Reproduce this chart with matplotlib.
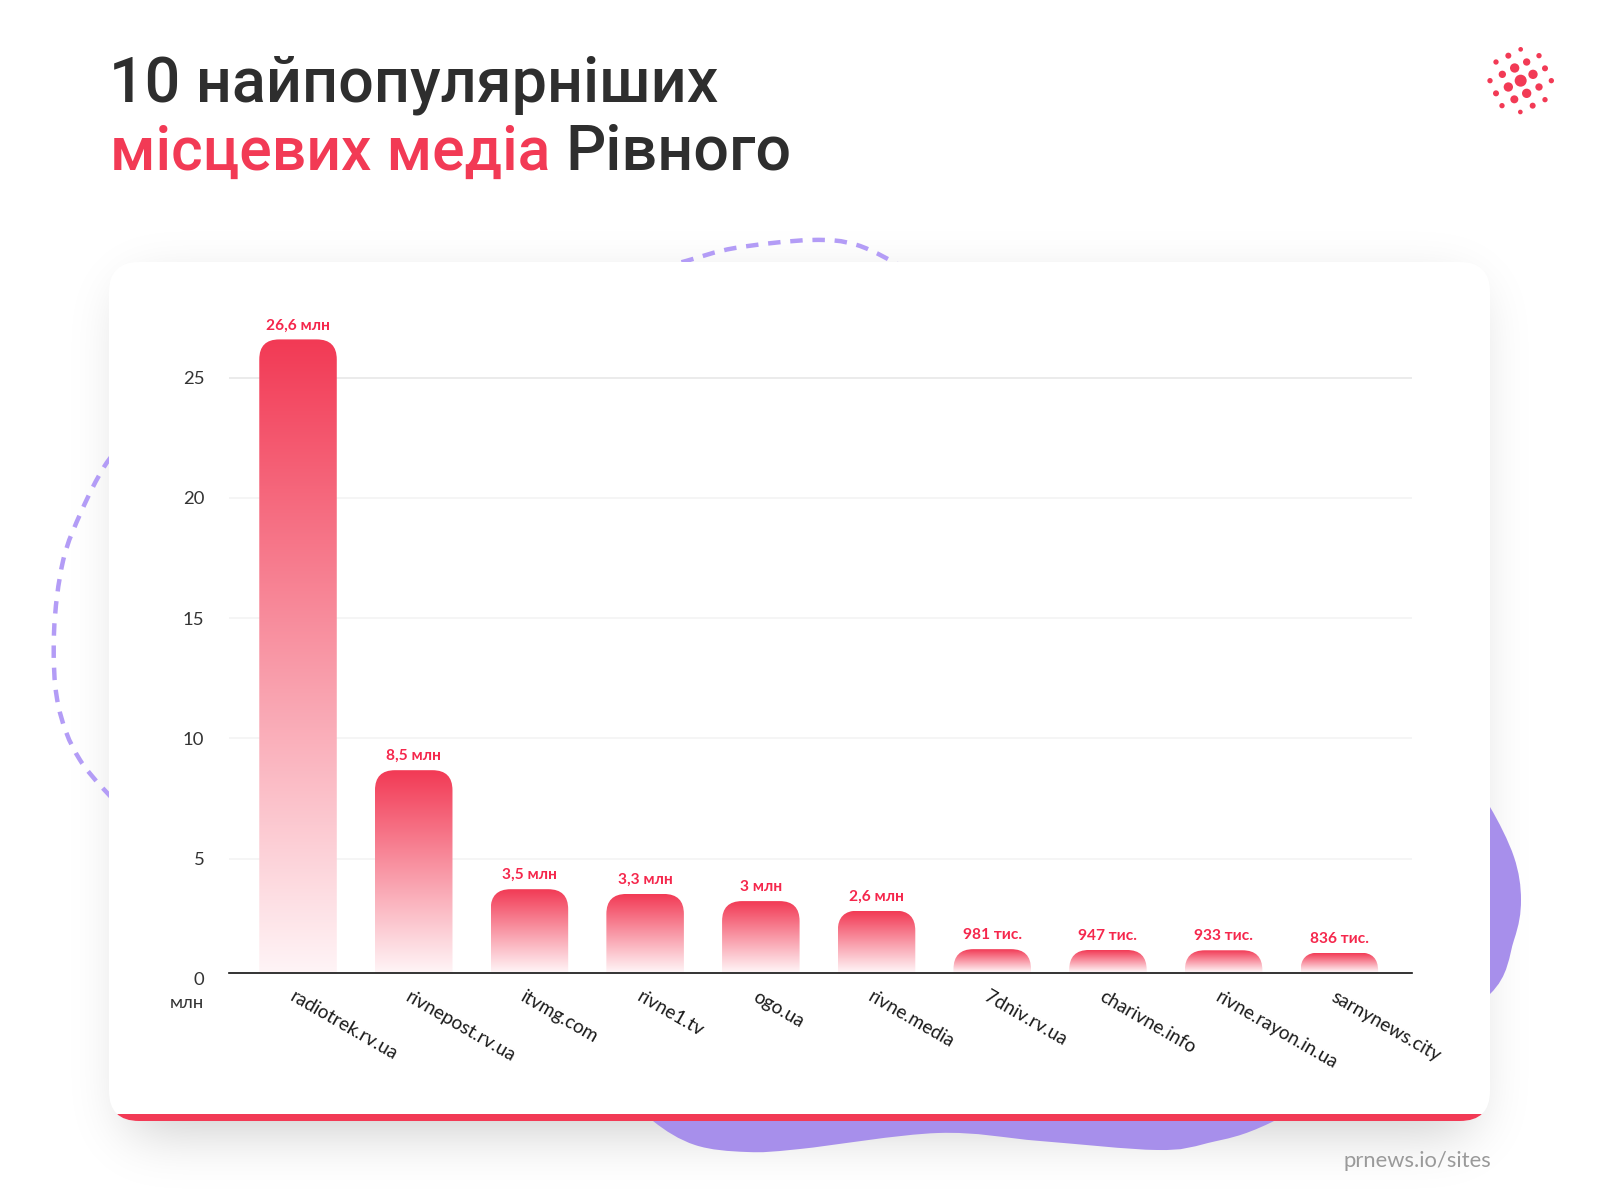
import math
import numpy as np
import matplotlib
matplotlib.use("Agg")
import matplotlib.pyplot as plt
from matplotlib.path import Path
from matplotlib.patches import PathPatch, FancyBboxPatch, Circle, Rectangle
from matplotlib.transforms import ScaledTranslation

# ---- data ----
sites = ["radiotrek.rv.ua", "rivnepost.rv.ua", "itvmg.com", "rivne1.tv", "ogo.ua",
         "rivne.media", "7dniv.rv.ua", "charivne.info", "rivne.rayon.in.ua", "sarnynews.city"]
visits_mln = [26.6, 8.5, 3.5, 3.3, 3.0, 2.6, 0.981, 0.947, 0.933, 0.836]
value_labels = ["26,6 млн", "8,5 млн", "3,5 млн", "3,3 млн", "3 млн", "2,6 млн",
                "981 тис.", "947 тис.", "933 тис.", "836 тис."]
y_ticks = [0, 5, 10, 15, 20, 25]

RED = "#F23A55"
LABEL_RED = "#F5274C"
PURPLE = "#A78FEB"
DASH = "#B39CF6"
DARK = "#2E2E2E"

plt.rcParams["font.family"] = ["Lato", "DejaVu Sans"]
fig = plt.figure(figsize=(16, 12), dpi=100, facecolor="white")

# ---- decorative background in pixel coordinates ----
bg = fig.add_axes([0, 0, 1, 1], zorder=0)
bg.set_xlim(0, 1600)
bg.set_ylim(1200, 0)
bg.axis("off")


def smooth_path(pts, closed=False):
    pts = [np.array(p, float) for p in pts]
    n = len(pts)
    verts = [pts[0]]
    codes = [Path.MOVETO]
    segs = n if closed else n - 1
    for i in range(segs):
        if closed:
            p0, p1, p2, p3 = pts[(i - 1) % n], pts[i], pts[(i + 1) % n], pts[(i + 2) % n]
        else:
            p0, p1, p2, p3 = pts[max(i - 1, 0)], pts[i], pts[i + 1], pts[min(i + 2, n - 1)]
        verts += [p1 + (p2 - p0) / 6, p2 - (p3 - p1) / 6, p2]
        codes += [Path.CURVE4] * 3
    return Path(verts, codes)


# soft card shadow
erf = np.vectorize(math.erf)
xs = np.arange(1600) + 0.5
ys = np.arange(1200) + 0.5
sx = 0.5 * (erf((xs - 130) / 40) - erf((xs - 1470) / 40))
sy = 0.5 * (erf((ys - 290) / 40) - erf((ys - 1130) / 40))
shadow = np.zeros((1200, 1600, 4))
shadow[..., 3] = 0.21 * np.outer(sy, sx)
bg.imshow(shadow, extent=(0, 1600, 1200, 0), aspect="auto", zorder=1, interpolation="bilinear")
bg.set_xlim(0, 1600)
bg.set_ylim(1200, 0)

blob = [(620, 1085), (653, 1121), (695, 1145), (747, 1152), (800, 1149), (938, 1133), (1040, 1141), (1157, 1150),
        (1208, 1143), (1272, 1122), (1400, 1050), (1490, 994), (1514, 940), (1521, 900), (1514, 857),
        (1490, 807), (1465, 775), (1300, 800), (1000, 900), (720, 1000)]
bg.add_patch(PathPatch(smooth_path(blob, closed=True), fc=PURPLE, ec="none", zorder=2))

dash_style = dict(fc="none", ec=DASH, lw=3.2, zorder=3, capstyle="butt", linestyle=(0, (2.8, 2.2)))
left_arc = [(125, 440), (104, 467), (82, 510), (63, 561), (54, 633), (58, 704), (80, 760), (125, 812)]
top_arc = [(660, 268), (686, 261), (735, 248), (811, 240), (857, 245), (905, 268)]
bg.add_patch(PathPatch(smooth_path(left_arc), **dash_style))
bg.add_patch(PathPatch(smooth_path(top_arc), **dash_style))

# card with red bottom edge: the strip is the lowest part of the same rounded shape
card_kw = dict(boxstyle="round,pad=0,rounding_size=30", ec="none")
bg.add_patch(FancyBboxPatch((109, 262), 1381, 859, fc="white", zorder=4, **card_kw))
strip = FancyBboxPatch((109, 262), 1381, 859, fc=RED, zorder=5, **card_kw)
bg.add_patch(strip)
strip.set_clip_path(Rectangle((100, 1114), 1400, 10, transform=bg.transData))

# logo dots
logo_x = [362, 344, 399, 380, 325, 380, 307, 417, 343, 325, 417, 288, 435, 270, 454, 288, 435, 306, 398, 362, 361]
logo_y = [242, 204, 223, 280, 261, 186, 223, 261, 298, 167, 167, 186, 205, 242, 242, 280, 299, 317, 317, 148, 336]
logo_r = [18, 14, 14, 14, 14, 11, 11, 11, 12, 9, 8, 8, 9, 8, 8, 9, 8, 8, 9, 7, 7]
for lx, ly, lr in zip(logo_x, logo_y, logo_r):
    bg.add_patch(Circle((1400 + lx / 3, ly / 3), lr / 3, fc=RED, ec="none", zorder=6))

# title and source
title_kw = dict(family=["Roboto", "DejaVu Sans"], fontweight="medium", va="baseline", zorder=7)
bg.text(109, 101.5, "10 найпопулярніших", color=DARK, fontsize=45.3, **title_kw)
bg.text(110, 170, "місцевих медіа", color=RED, fontsize=43.6, **title_kw)
bg.text(565, 170, "Рівного", color=DARK, fontsize=45.3, **title_kw)
bg.text(1491, 1167, "prnews.io/sites", color="#9A9A9A", fontsize=15.8, ha="right", va="baseline", zorder=7)

# ---- tick scale and grid (the reference's grid has its own zero just under the baseline) ----
ax_left, ax_right, ax_bottom, ax_top = 228.6, 1412, 972.5, 317.5
grid_zero, grid_top = 978.8, 317.5
gax = fig.add_axes([ax_left / 1600, 1 - grid_zero / 1200, (ax_right - ax_left) / 1600, (grid_zero - grid_top) / 1200],
                   zorder=1)
gax.patch.set_alpha(0)
gax.set_ylim(0, (grid_zero - grid_top) / 24.05)
gax.set_xlim(0, 1)
gax.set_xticks([])
for s in gax.spines.values():
    s.set_visible(False)
gax.set_yticks(y_ticks)
gax.set_yticklabels([str(v) for v in y_ticks])
gax.tick_params(axis="y", length=0, pad=17.5, labelsize=13.3, labelcolor="#333333")
for g, c in zip(y_ticks[1:], ["#F4F4F4", "#F4F4F4", "#F4F4F4", "#F4F4F4", "#E8E8E8"]):
    gax.axhline(g, color=c, lw=1.2, zorder=1)

# ---- bars ----
ax = fig.add_axes([ax_left / 1600, 1 - ax_bottom / 1200, (ax_right - ax_left) / 1600, (ax_bottom - ax_top) / 1200],
                  zorder=2)
ax.patch.set_alpha(0)
x_pos = np.arange(len(sites))
x_lim = (-0.6, 9.628)
y_lim = (0, 27.52)
px_x = (ax_right - ax_left) / (x_lim[1] - x_lim[0])
px_y = (ax_bottom - ax_top) / (y_lim[1] - y_lim[0])

top_rgb = np.array(matplotlib.colors.to_rgb(RED))
bot_rgb = np.array(matplotlib.colors.to_rgb("#FFF4F6"))
t = np.linspace(0, 1, 256)[:, None]
grad = (top_rgb[None, :] * (1 - t) + bot_rgb[None, :] * t)[:, None, :]

bar_w = 0.67
for x, v in zip(x_pos, visits_mln):
    im = ax.imshow(grad, extent=(x - bar_w / 2, x + bar_w / 2, 0.04, v), aspect="auto", zorder=3,
                   interpolation="bilinear")
    r = min(20, v * px_y * 0.9)
    rx, ry = r / px_x, r / px_y
    l, rr = x - bar_w / 2, x + bar_w / 2
    clip = Path([(l, 0), (l, v - ry), (l, v), (l + rx, v), (rr - rx, v), (rr, v), (rr, v - ry), (rr, 0), (l, 0)],
                [Path.MOVETO, Path.LINETO, Path.CURVE3, Path.CURVE3, Path.LINETO, Path.CURVE3, Path.CURVE3,
                 Path.LINETO, Path.CLOSEPOLY])
    im.set_clip_path(PathPatch(clip, transform=ax.transData))

for x, v, s in zip(x_pos, visits_mln, value_labels):
    ax.annotate(s, (x, v), xytext=(0, 5), textcoords="offset points", ha="center", va="bottom",
                color=LABEL_RED, fontsize=11.2, fontweight="bold", annotation_clip=False)

ax.set_xlim(*x_lim)
ax.set_ylim(*y_lim)
ax.set_yticks([])
for s in ["left", "right", "top"]:
    ax.spines[s].set_visible(False)
ax.spines["bottom"].set_color("#111111")
ax.spines["bottom"].set_linewidth(1.2)
ax.spines["bottom"].set_zorder(5)
ax.text(204, 1003, "млн", transform=bg.transData, ha="right", va="center", fontsize=13.3, color="#333333")

ax.set_xticks(x_pos)
ax.set_xticklabels(sites)
ax.tick_params(axis="x", length=0, pad=11, labelsize=13.6, labelcolor="#1A1A1A")
shift = ScaledTranslation(-2.5 / 100, 0, fig.dpi_scale_trans)
for lab in ax.get_xticklabels():
    lab.set_rotation(-30)
    lab.set_rotation_mode("anchor")
    lab.set_ha("left")
    lab.set_va("top")
    lab.set_transform(lab.get_transform() + shift)

fig.savefig("out.png", dpi=100)
